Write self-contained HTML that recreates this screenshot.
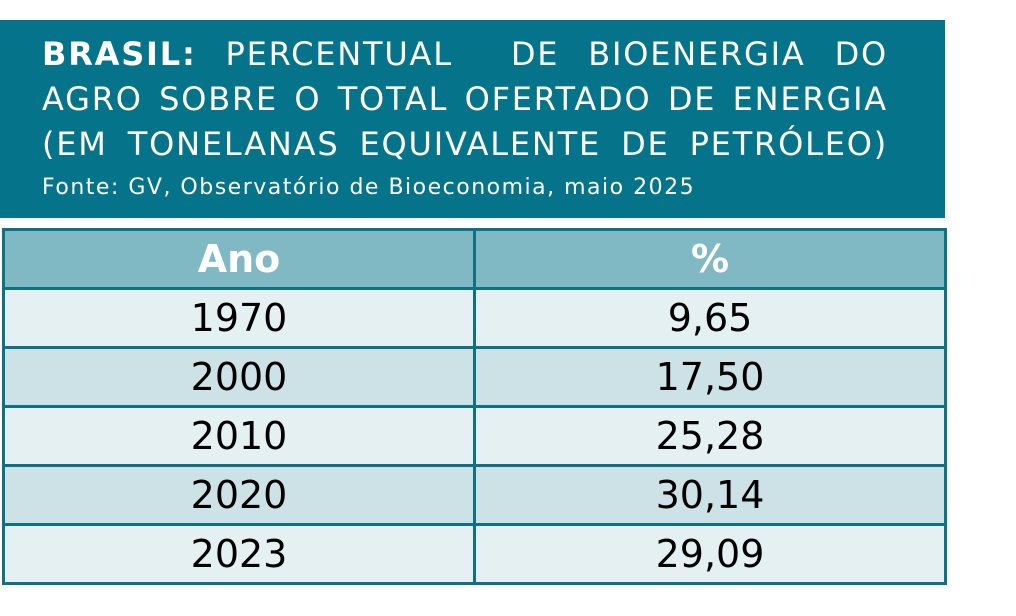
<!DOCTYPE html>
<html><head><meta charset="utf-8"><style>
body{margin:0;width:1016px;height:616px;background:#fff;position:relative;font-family:"DejaVu Sans","Liberation Sans",sans-serif;overflow:hidden}
.hdr{position:absolute;left:0;top:20px;width:945px;height:198px;background:#05738a;color:#fff}
.ln{position:absolute;left:42px;width:846px;font-size:32px;text-align:justify;text-align-last:justify;letter-spacing:1.8px;line-height:40px}
.src{position:absolute;left:42px;top:155px;font-size:22px;white-space:nowrap;letter-spacing:1.5px}
table{position:absolute;left:2px;top:228px;width:945px;border-collapse:collapse;table-layout:fixed}
td{border:3px solid #0f7184;text-align:center;font-size:38px;color:#000;padding:0;height:56px;line-height:56px;width:50%;box-sizing:border-box}
tr.h td{background:#80b8c4;color:#fff;font-weight:bold}
tr.a td{background:#e5f0f2}
tr.b td{background:#cde2e7}
</style></head><body>
<div class="hdr">
<div class="ln" style="top:14px"><b>BRASIL:</b> PERCENTUAL&nbsp; DE BIOENERGIA DO</div>
<div class="ln" style="top:59px">AGRO SOBRE O TOTAL OFERTADO DE ENERGIA</div>
<div class="ln" style="top:104px">(EM TONELANAS EQUIVALENTE DE PETRÓLEO)</div>
<div class="src">Fonte: GV, Observatório de Bioeconomia, maio 2025</div>
</div>
<table>
<tr class="h"><td>Ano</td><td>%</td></tr>
<tr class="a"><td>1970</td><td>9,65</td></tr>
<tr class="b"><td>2000</td><td>17,50</td></tr>
<tr class="a"><td>2010</td><td>25,28</td></tr>
<tr class="b"><td>2020</td><td>30,14</td></tr>
<tr class="a"><td>2023</td><td>29,09</td></tr>
</table>
</body></html>
